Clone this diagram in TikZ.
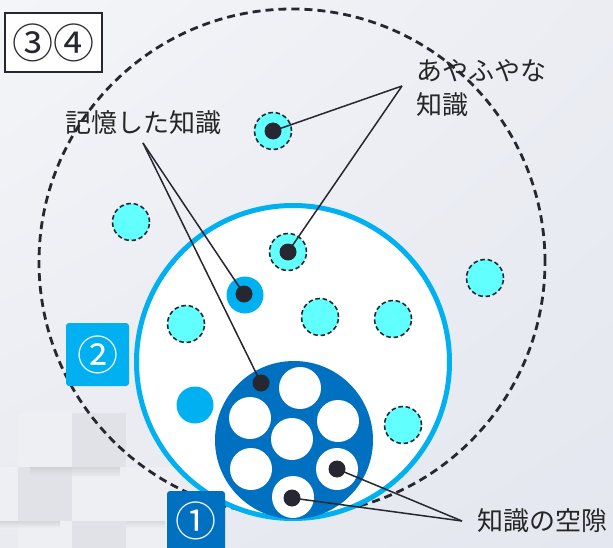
\documentclass[tikz,border=0pt]{standalone}
\usepackage{fontspec}
\usetikzlibrary{shadings}
\newfontfamily\jp{Noto Sans CJK JP}
\definecolor{bgtl}{HTML}{F4F5F8}
\definecolor{bgtr}{HTML}{EBEDF3}
\definecolor{bgbl}{HTML}{E9EBF1}
\definecolor{bgbr}{HTML}{E4E7EF}
\definecolor{tilel}{HTML}{EDEFF3}
\definecolor{tiled}{HTML}{E0E2E7}
\definecolor{dotc}{HTML}{262730}
\definecolor{cyanc}{HTML}{62FFFF}
\definecolor{lblue}{HTML}{00B0F0}
\definecolor{dblue}{HTML}{0070C0}
\begin{document}
\begin{tikzpicture}[x=1pt,y=-1pt,
  dotn/.style={circle,fill=dotc,inner sep=0pt,minimum size=17pt},
  fuzzy/.style={circle,fill=cyanc,draw=dotc,line width=1.6pt,dash pattern=on 4.5pt off 2.8pt,inner sep=0pt,minimum size=37pt},
  solidk/.style={circle,fill=lblue,inner sep=0pt,minimum size=37pt},
  hole/.style={circle,fill=white,inner sep=0pt,minimum size=42pt},
  lead/.style={draw=dotc,line width=1.5pt},
  lbl/.style={font=\jp\fontsize{26}{34}\selectfont,text=black!85,inner sep=0pt},
  numt/.style={font=\jp\fontsize{41}{44}\selectfont,inner sep=0pt}]
\useasboundingbox (0,0) rectangle (613,548);
\clip (0,0) rectangle (613,548);
% background
\shade[upper left=bgtl,upper right=bgtr,lower left=bgbl,lower right=bgbr] (0,0) rectangle (613,548);
% checker tiles
\fill[tilel] (18,413) rectangle (72,467);
\fill[tiled] (72,413) rectangle (126,467);
\fill[tilel] (0,467) rectangle (18,521);
\fill[tiled] (18,467) rectangle (72,521);
\fill[tilel] (72,467) rectangle (126,521);
\fill[tilel] (126,467) rectangle (180,521);
\fill[tilel] (18,521) rectangle (72,548);
\fill[tiled] (72,521) rectangle (126,548);
\fill[tilel] (126,521) rectangle (180,548);
\shade[top color=black!22,bottom color=tiled,opacity=0.6] (30,467) rectangle (120,475);
\shade[top color=black!22,bottom color=tilel,opacity=0.6] (0,521) rectangle (60,528);
\shade[top color=black!22,bottom color=tilel,opacity=0.5] (126,521) rectangle (165,528);
% outer dashed circle
\node[circle,draw=dotc,line width=2.8pt,dash pattern=on 8pt off 5pt,inner sep=0pt,minimum size=506pt] (outer) at (292,262) {};
% middle circle
\node[circle,draw=lblue,line width=5pt,fill=white,inner sep=0pt,minimum size=313pt] (mid) at (293,362) {};
% core circle
\node[circle,fill=dblue,inner sep=0pt,minimum size=158pt] (core) at (294,440) {};
\node[hole] (h1) at (300,388) {};
\node[hole] (h2) at (250,418) {};
\node[hole] (h3) at (338,421) {};
\node[hole] (h4) at (292,439) {};
\node[hole] (h5) at (251,469) {};
\node[hole] (h6) at (337,469) {};
\node[hole] (h7) at (293,497) {};
% fuzzy knowledge
\node[fuzzy] (c1) at (131,222) {};
\node[fuzzy] (c2) at (273,131) {};
\node[fuzzy] (c3) at (288,252) {};
\node[fuzzy] (c4) at (485,278) {};
\node[fuzzy] (c5) at (186,324) {};
\node[fuzzy] (c6) at (320,317) {};
\node[fuzzy] (c7) at (393,319) {};
\node[fuzzy] (c8) at (403,425) {};
% solid knowledge
\node[solidk] (b1) at (245,295) {};
\node[solidk] (b2) at (195,405) {};
% dots
\node[dotn] (d1) at (c2.center) {};
\node[dotn] (d2) at (c3.center) {};
\node[dotn] (d3) at (244,294) {};
\node[dotn] (d4) at (261,383) {};
\node[dotn] (d5) at (h6.center) {};
\node[dotn] (d6) at (292,498) {};
% labels
\node[lbl] (lmem) at (143.5,123) {記憶した知識};
\node[lbl,anchor=west,align=left] (lfuz) at (416,88) {あやふやな\\知識};
\node[lbl,anchor=west] (lgap) at (477,521) {知識の空隙};
\coordinate (amem) at (143,143);
\coordinate (afuz) at (402,86);
\coordinate (agap) at (462,521);
\draw[lead] (amem) -- (d3.center);
\draw[lead] (amem) -- (d4.center);
\draw[lead] (afuz) -- (d1.center);
\draw[lead] (afuz) -- (d2.center);
\draw[lead] (agap) -- (d5.center);
\draw[lead] (agap) -- (d6.center);
% step boxes
\node[draw=dotc,line width=2pt,fill=white,minimum width=97pt,minimum height=59pt,inner sep=0pt] (s34) at (53.5,42.5) {};
\node[numt,text=dotc] (t34) at (s34.center) {③④};
\node[fill=lblue,rounded corners=3pt,minimum width=63pt,minimum height=63pt,inner sep=0pt] (s2) at (97.5,354.5) {};
\node[numt,text=white] (t2) at (s2.center) {②};
\node[fill=dblue,rounded corners=3pt,minimum width=58pt,minimum height=70pt,inner sep=0pt] (s1) at (196,526) {};
\node[numt,text=white] (t1) at (196,521) {①};
\end{tikzpicture}
\end{document}
